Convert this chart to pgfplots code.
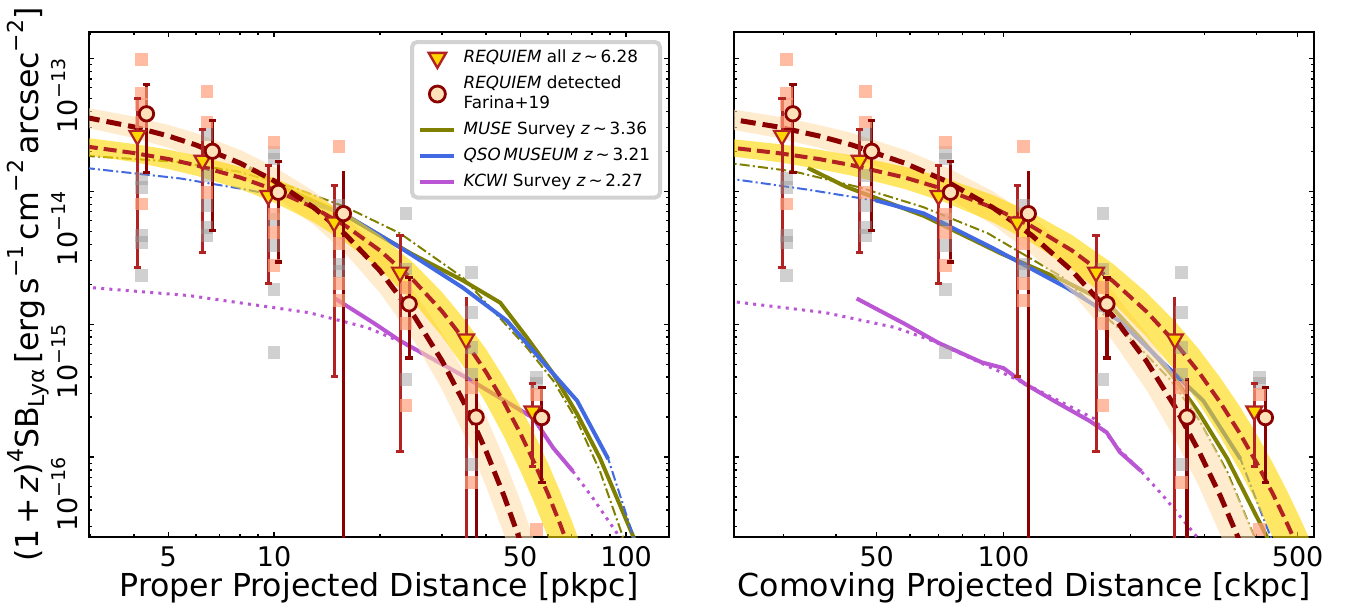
\documentclass[border=0pt]{standalone}
\usepackage{fontspec}
\setmainfont{DejaVu Sans}
\usepackage{pgfplots}
\usepackage{pgfplotstable}
\pgfplotsset{compat=1.18}

\definecolor{firebrick}{RGB}{178,34,34}
\definecolor{darkred}{RGB}{139,0,0}
\definecolor{gold}{RGB}{255,215,0}
\definecolor{navajo}{RGB}{255,222,173}
\definecolor{bisquem}{RGB}{255,225,185}
\definecolor{myolive}{RGB}{128,128,0}
\definecolor{royalblue}{RGB}{65,105,225}
\definecolor{orchid}{RGB}{186,85,211}
\definecolor{lsalmon}{RGB}{255,160,122}
\definecolor{sqgray}{RGB}{150,150,150}

\newcommand\tp[1]{10\raisebox{0.45em}{\fontsize{9.5}{10}\selectfont −#1}}
\newcommand\sups[1]{\raisebox{0.45em}{\fontsize{11}{12}\selectfont #1}}
\newcommand\subs[1]{\raisebox{-0.22em}{\fontsize{11}{12}\selectfont #1}}

% exponential fits (proper kpc)
\pgfplotstableread{
r FR DR
2.9 2.18e-14 3.61e-14
4 1.94e-14 3.05e-14
5 1.75e-14 2.61e-14
6 1.57e-14 2.23e-14
8 1.27e-14 1.63e-14
10 1.03e-14 1.20e-14
13 7.50e-15 7.50e-15
16 5.47e-15 4.69e-15
20 3.58e-15 2.52e-15
25 2.11e-15 1.15e-15
30 1.25e-15 5.30e-16
35 7.37e-16 2.43e-16
40 4.36e-16 1.11e-16
45 2.57e-16 5.10e-17
50 1.52e-16 2.34e-17
55 8.93e-17 1.07e-17
60 5.28e-17 4.9e-18
65 3.11e-17 2.2e-18
70 1.84e-17 1e-18
75 1.08e-17 5e-19
80 6.4e-18 2e-19
}\fitP
\pgfplotstableread{
r FR DR
21.11 2.18e-14 3.61e-14
29.12 1.94e-14 3.05e-14
36.4 1.75e-14 2.61e-14
43.68 1.57e-14 2.23e-14
58.24 1.27e-14 1.63e-14
72.8 1.03e-14 1.20e-14
94.64 7.50e-15 7.50e-15
116.48 5.47e-15 4.69e-15
145.6 3.58e-15 2.52e-15
182 2.11e-15 1.15e-15
218.4 1.25e-15 5.30e-16
254.8 7.37e-16 2.43e-16
291.2 4.36e-16 1.11e-16
327.6 2.57e-16 5.10e-17
364 1.52e-16 2.34e-17
400.4 8.93e-17 1.07e-17
436.8 5.28e-17 4.9e-18
473.2 3.11e-17 2.2e-18
509.6 1.84e-17 1e-18
546 1.08e-17 5e-19
582.4 6.4e-18 2e-19
}\fitC

\pgfplotstableread{
x y
4.2 1.24e-14
4.2 1.07e-14
4.2 4.66e-15
4.2 4.12e-15
4.2 2.31e-15
6.45 2.69e-14
6.45 1.32e-14
6.45 7.83e-15
6.45 5.35e-15
6.45 4.66e-15
10 1.97e-14
10 1.75e-14
10 6.15e-15
10 3.91e-15
10 1.83e-15
10 6.1e-16
15.3 7.8e-15
15.3 2.84e-15
15.3 2.5e-15
23.7 6.8e-15
23.7 2.6e-15
23.7 3.85e-16
36.4 2.46e-15
36.4 1.23e-15
36.4 6.68e-16
36.4 4.21e-16
36.4 8.81e-17
55.7 3.97e-16
55.7 3.6e-16
}\grayP
\pgfplotstableread{
x y
30.58 1.24e-14
30.58 1.07e-14
30.58 4.66e-15
30.58 4.12e-15
30.58 2.31e-15
46.96 2.69e-14
46.96 1.32e-14
46.96 7.83e-15
46.96 5.35e-15
46.96 4.66e-15
72.8 1.97e-14
72.8 1.75e-14
72.8 6.15e-15
72.8 3.91e-15
72.8 1.83e-15
72.8 6.1e-16
111.4 7.8e-15
111.4 2.84e-15
111.4 2.5e-15
172.5 6.8e-15
172.5 2.6e-15
172.5 3.85e-16
265.0 2.46e-15
265.0 1.23e-15
265.0 6.68e-16
265.0 4.21e-16
265.0 8.81e-17
405.5 3.97e-16
405.5 3.6e-16
}\grayC
\pgfplotstableread{
x y
4.2 9.86e-14
4.2 5.42e-14
4.2 4.5e-14
4.2 3.32e-14
4.2 8.02e-15
6.45 5.65e-14
6.45 3.32e-14
6.45 9.82e-15
10 2.34e-14
10 6.75e-15
10 4.9e-15
10 2.75e-15
15.3 2.16e-14
15.3 4.06e-15
15.3 2.01e-15
15.3 1.5e-15
23.7 1.9e-15
23.7 1.01e-15
23.7 2.43e-16
36.4 3.33e-16
36.4 6.4e-17
55.7 2.97e-16
55.7 2.84e-17
}\salP
\pgfplotstableread{
x y
30.58 9.86e-14
30.58 5.42e-14
30.58 4.5e-14
30.58 3.32e-14
30.58 8.02e-15
46.96 5.65e-14
46.96 3.32e-14
46.96 9.82e-15
72.8 2.34e-14
72.8 6.75e-15
72.8 4.9e-15
72.8 2.75e-15
111.4 2.16e-14
111.4 4.06e-15
111.4 2.01e-15
111.4 1.5e-15
172.5 1.9e-15
172.5 1.01e-15
172.5 2.43e-16
265.0 3.33e-16
265.0 6.4e-17
405.5 2.97e-16
405.5 2.84e-17
}\salC

\pgfplotstableread{
x y
4.09 2.63e-14
6.26 1.71e-14
9.63 9.29e-15
14.81 5.86e-15
22.8 2.46e-15
35.1 7.73e-16
54.2 2.22e-16
}\triP
\pgfplotstableread{
x y
4.34 3.83e-14
6.68 2.0e-14
10.28 9.82e-15
15.74 6.79e-15
24.2 1.42e-15
37.5 2.0e-16
57.6 1.98e-16
}\cirP
\pgfplotstableread{
x y
29.78 2.63e-14
45.57 1.71e-14
70.11 9.29e-15
107.8 5.86e-15
166.0 2.46e-15
255.5 7.73e-16
394.6 2.22e-16
}\triC
\pgfplotstableread{
x y
31.60 3.83e-14
48.63 2.0e-14
74.84 9.82e-15
114.6 6.79e-15
176.2 1.42e-15
273.0 2.0e-16
419.3 1.98e-16
}\cirC

\pgfplotsset{
  ebT/.style={firebrick, line width=1.5pt, mark=-, mark size=1.8pt, mark options={solid}, forget plot},
  ebC/.style={darkred, line width=1.6pt, mark=-, mark size=1.9pt, mark options={solid}, forget plot},
  sqG/.style={only marks, mark=square*, mark size=3.2pt, sqgray, fill opacity=0.45, draw opacity=0,
     mark options={draw=sqgray, fill=sqgray, draw opacity=0, fill opacity=0.45, line width=0pt}, forget plot},
  sqS/.style={only marks, mark=square*, mark size=3.2pt, lsalmon, fill opacity=0.7, draw opacity=0,
     mark options={draw=lsalmon, fill=lsalmon, draw opacity=0, fill opacity=0.7, line width=0pt}, forget plot},
  mT/.style={only marks, mark=triangle*, mark size=4.6pt, mark options={rotate=180, fill=gold, draw=firebrick, line width=1.1pt}, forget plot},
  mC/.style={only marks, mark=*, mark size=3.6pt, mark options={fill=bisquem, draw=darkred, line width=1.4pt}, forget plot},
  oliveS/.style={myolive, line width=2pt, forget plot},
  oliveD/.style={myolive, line width=1pt, dash pattern=on 5pt off 1.6pt on 1pt off 1.6pt, forget plot},
  blueS/.style={royalblue, line width=2pt, forget plot},
  blueD/.style={royalblue, line width=1pt, dash pattern=on 5pt off 1.6pt on 1pt off 1.6pt, forget plot},
  purS/.style={orchid, line width=2pt, forget plot},
  purD/.style={orchid, line width=1.5pt, dash pattern=on 1.5pt off 2.6pt, forget plot},
  fitFR/.style={firebrick, line width=2pt, dash pattern=on 6.5pt off 3pt, forget plot},
  fitDR/.style={darkred, line width=2.5pt, dash pattern=on 7.5pt off 3.5pt, forget plot},
  bandB/.style={fill=navajo, fill opacity=0.6, draw=none, forget plot},
  bandY/.style={fill=gold, fill opacity=0.6, draw=none, forget plot},
}

\begin{document}
\begin{tikzpicture}
\useasboundingbox (0,0) rectangle (678pt,305pt);

% ---------------- left panel ----------------
\begin{axis}[
  scale only axis, width=290pt, height=252.5pt, anchor=south west,
  at={(44.5pt,36.5pt)},
  xmode=log, ymode=log, ymin=2.5e-17, ymax=1.58e-13,
  xmin=2.98, xmax=132.4,
  tick align=inside,
  major tick length=2.75pt, minor tick length=1.5pt,
  tick style={black, line width=0.6pt},
  axis line style={line width=0.9pt},
  xtick={5,10,50,100}, xticklabels={5,10,50,100},
  minor xtick={3,4,6,7,8,9,20,30,40,60,70,80,90},
  ytick={1e-16,1e-15,1e-14,1e-13},
  minor ytick={3e-17,4e-17,5e-17,6e-17,7e-17,8e-17,9e-17,2e-16,3e-16,4e-16,5e-16,6e-16,7e-16,8e-16,9e-16,2e-15,3e-15,4e-15,5e-15,6e-15,7e-15,8e-15,9e-15,2e-14,3e-14,4e-14,5e-14,6e-14,7e-14,8e-14,9e-14},
  yticklabels={\tp{16},\tp{15},\tp{14},\tp{13}},
  tick label style={font=\fontsize{13.5}{15}\selectfont},
  xticklabel style={anchor=north, inner sep=0pt, yshift=-4.5pt},
  yticklabel style={xshift=-5.5pt, rotate=90, anchor=south east, inner sep=0pt},
  label style={font=\fontsize{15.8}{18}\selectfont},
  xlabel={Proper Projected Distance [pkpc]},
  xlabel style={at={([yshift=-29.75pt]axis description cs:0.5,0)}, anchor=base, inner sep=0pt},
  ylabel={(1\,+\,\textit{z})\sups{4}SB\subs{Lyα}\,[erg\,s\sups{−1}\,cm\sups{−2}\,arcsec\sups{−2}]},
  ylabel style={at={([xshift=-25.5pt]axis description cs:0,0.5)}, anchor=base, inner sep=0pt},
  legend cell align=left,
  legend style={at={(rel axis cs:1,1)}, anchor=north east, xshift=-3.5pt, yshift=-4pt,
    draw=gray!35, line width=2pt, rounded corners=2.5pt, fill=white,
    font=\fontsize{8.4}{10}\selectfont, inner xsep=3pt, inner ysep=2pt,
    row sep=1.2pt, column sep=1.5pt},
]
\addplot[sqG] table {\grayP};
\addplot[sqS] table {\salP};

\addplot[purD] coordinates {(2.9,1.9e-15) (5.74,1.64e-15) (12.57,1.22e-15) (18.4,9.42e-16) (22.8,7.4e-16) (35.3,3.9e-16) (54.5,1.95e-16) (62.1,1.17e-16) (70.6,7.8e-17) (80.5,4.9e-17) (94.2,2.67e-17) (100,2.1e-17)};
\addplot[purS] coordinates {(14.9,1.56e-15) (19.3,1.01e-15) (22.8,7.5e-16) (35.3,3.94e-16) (54.5,1.97e-16) (62.1,1.17e-16) (70.6,7.83e-17)};
\addplot[oliveD] coordinates {(2.9,1.85e-14) (5.23,1.67e-14) (7.9,1.41e-14) (11.3,1.07e-14) (16,7.6e-15) (22.8,4.82e-15) (34.4,2.24e-15) (52.3,6.65e-16) (62.1,3.75e-16) (72.6,1.87e-16) (84.3,7.83e-17) (98,2.5e-17) (104,1.6e-17)};
\addplot[oliveS] coordinates {(8.5,1.5e-14) (10.5,1.08e-14) (16.1,6.5e-15) (24.5,3.4e-15) (34.4,2.13e-15) (43.9,1.45e-15) (52.3,7.91e-16) (62.1,4.23e-16) (72.6,2.11e-16) (84.3,9.82e-17) (104.7,2.54e-17) (110,1.8e-17)};
\addplot[blueD] coordinates {(2.9,1.5e-14) (5.4,1.25e-14) (8.32,1.03e-14) (12.09,8.5e-15) (15.71,6.8e-15) (22.8,3.78e-15) (34.4,1.88e-15) (45.9,1.06e-15) (62.1,4.23e-16) (72.6,2.65e-16) (89,9.66e-17) (105,2.5e-17) (110,1.5e-17)};
\addplot[blueS] coordinates {(12.09,8.55e-15) (15.71,6.82e-15) (22.8,3.78e-15) (34.4,1.88e-15) (45.9,1.06e-15) (62.1,4.23e-16) (72.6,2.65e-16) (89,9.66e-17)};

\addplot[bandB] coordinates {(2.9,4.28e-14) (4,3.65e-14) (5,3.16e-14) (6,2.74e-14) (8,2.05e-14) (10,1.53e-14) (13,9.95e-15) (16,6.46e-15) (20,3.62e-15) (25,1.76e-15) (30,8.55e-16) (35,4.15e-16) (40,2.02e-16) (45,9.80e-17) (50,4.76e-17) (55,2.31e-17) (60,1.12e-17) (65,5.4e-18)
 (65,9e-19) (60,2.1e-18) (55,4.9e-18) (50,1.13e-17) (45,2.61e-17) (40,6.03e-17) (35,1.39e-16) (30,3.22e-16) (25,7.45e-16) (20,1.72e-15) (16,3.37e-15) (13,5.56e-15) (10,9.20e-15) (8,1.29e-14) (6,1.80e-14) (5,2.13e-14) (4,2.52e-14) (2.9,3.03e-14)} -- cycle;
\addplot[bandY] coordinates {(2.9,2.53e-14) (4,2.27e-14) (5,2.06e-14) (6,1.86e-14) (8,1.53e-14) (10,1.26e-14) (13,9.33e-15) (16,6.93e-15) (20,4.68e-15) (25,2.85e-15) (30,1.74e-15) (35,1.06e-15) (40,6.49e-16) (45,3.95e-16) (50,2.42e-16) (55,1.47e-16) (60,8.99e-17) (65,5.48e-17) (70,3.35e-17) (75,2.04e-17) (80,1.25e-17)
 (80,2.5e-18) (75,4.4e-18) (70,7.8e-18) (65,1.39e-17) (60,2.49e-17) (55,4.45e-17) (50,7.94e-17) (45,1.42e-16) (40,2.54e-16) (35,4.53e-16) (30,8.09e-16) (25,1.45e-15) (20,2.58e-15) (16,4.11e-15) (13,5.82e-15) (10,8.24e-15) (8,1.04e-14) (6,1.31e-14) (5,1.47e-14) (4,1.66e-14) (2.9,1.88e-14)} -- cycle;

\addplot[fitFR] table[x=r, y=FR] {\fitP};
\addplot[fitDR] table[x=r, y=DR] {\fitP};

\addplot[ebT] coordinates {(4.09,2.65e-15) (4.09,4.98e-14)};
\addplot[ebT] coordinates {(6.26,3.47e-15) (6.26,2.92e-14)};
\addplot[ebT] coordinates {(9.63,2.03e-15) (9.63,1.56e-14)};
\addplot[ebT] coordinates {(14.81,4.02e-16) (14.81,1.11e-14)};
\addplot[ebT] coordinates {(22.8,1.1e-16) (22.8,4.66e-15)};
\addplot[ebT, mark indices={2}] coordinates {(35.1,1e-18) (35.1,1.61e-15)};
\addplot[ebT] coordinates {(54.2,8.55e-17) (54.2,3.57e-16)};
\addplot[mT] table {\triP};

\addplot[ebC] coordinates {(4.34,1.39e-14) (4.34,6.34e-14)};
\addplot[ebC] coordinates {(6.68,5.05e-15) (6.68,3.42e-14)};
\addplot[ebC] coordinates {(10.28,2.94e-15) (10.28,1.68e-14)};
\addplot[ebC, mark indices={2}] coordinates {(15.74,1e-18) (15.74,1.43e-14)};
\addplot[ebC] coordinates {(24.2,5.56e-16) (24.2,2.25e-15)};
\addplot[ebC, mark indices={2}] coordinates {(37.5,1e-18) (37.5,3.93e-16)};
\addplot[ebC] coordinates {(57.6,6.4e-17) (57.6,3.33e-16)};
\addplot[mC] table {\cirP};

\addlegendimage{only marks, mark=triangle*, mark size=5pt, mark options={rotate=180, fill=gold, draw=firebrick, line width=1.2pt}}
\addlegendentry{\textit{REQUIEM} all \textit{z}\,∼\,6.28}
\addlegendimage{only marks, mark=*, mark size=4pt, mark options={fill=bisquem, draw=darkred, line width=1.4pt}}
\addlegendentry[align=left]{\textit{REQUIEM} detected\\Farina+19}
\addlegendimage{myolive, line width=2.2pt}
\addlegendentry{\textit{MUSE} Survey \textit{z}\,∼\,3.36}
\addlegendimage{royalblue, line width=2.2pt}
\addlegendentry{\textit{QSO\,MUSEUM} \textit{z}\,∼\,3.21}
\addlegendimage{orchid, line width=2.2pt}
\addlegendentry{\textit{KCWI} Survey \textit{z}\,∼\,2.27}
\end{axis}

% ---------------- right panel ----------------
\begin{axis}[
  scale only axis, width=290pt, height=252.5pt, anchor=south west,
  at={(367pt,36.5pt)},
  xmode=log, ymode=log, ymin=2.5e-17, ymax=1.58e-13,
  xmin=22.9, xmax=547,
  tick align=inside,
  major tick length=2.75pt, minor tick length=1.5pt,
  tick style={black, line width=0.6pt},
  axis line style={line width=0.9pt},
  xtick={50,100,500}, xticklabels={50,100,500},
  minor xtick={30,40,60,70,80,90,200,300,400},
  ytick={1e-16,1e-15,1e-14,1e-13},
  minor ytick={3e-17,4e-17,5e-17,6e-17,7e-17,8e-17,9e-17,2e-16,3e-16,4e-16,5e-16,6e-16,7e-16,8e-16,9e-16,2e-15,3e-15,4e-15,5e-15,6e-15,7e-15,8e-15,9e-15,2e-14,3e-14,4e-14,5e-14,6e-14,7e-14,8e-14,9e-14},
  yticklabels={},
  tick label style={font=\fontsize{13.5}{15}\selectfont},
  xticklabel style={anchor=north, inner sep=0pt, yshift=-4.5pt},
  label style={font=\fontsize{15.8}{18}\selectfont},
  xlabel={Comoving Projected Distance [ckpc]},
  xlabel style={at={([yshift=-29.75pt]axis description cs:0.5,0)}, anchor=base, inner sep=0pt},
]
\addplot[sqG] table {\grayC};
\addplot[sqS] table {\salC};

\addplot[purD] coordinates {(8.7,1.9e-15) (17.3,1.64e-15) (37.8,1.22e-15) (55.4,9.42e-16) (68.6,7.4e-16) (106.3,3.9e-16) (164,1.95e-16) (186.9,1.17e-16) (212.5,7.8e-17) (242.3,4.9e-17) (283.5,2.67e-17) (301,2.1e-17)};
\addplot[purS] coordinates {(44.8,1.56e-15) (58.1,1.01e-15) (70.1,7.23e-16) (88.8,5.16e-16) (100,4.67e-16) (112.4,3.56e-16) (132.6,2.62e-16) (160.2,1.87e-16) (176,1.53e-16) (189,1.09e-16) (212.8,7.8e-17)};
\addplot[oliveD] coordinates {(11.7,1.85e-14) (21.1,1.67e-14) (31.8,1.41e-14) (45.5,1.07e-14) (64.5,7.6e-15) (91.9,4.82e-15) (138.6,2.24e-15) (210.8,6.65e-16) (250.3,3.75e-16) (292.6,1.87e-16) (339.7,7.83e-17) (394.9,2.5e-17) (419.1,1.6e-17)};
\addplot[oliveS] coordinates {(34.3,1.5e-14) (42.3,1.08e-14) (64.9,6.5e-15) (98.7,3.4e-15) (138.6,2.13e-15) (176.9,1.45e-15) (210.8,7.91e-16) (250.3,4.23e-16) (292.6,2.11e-16) (339.7,9.82e-17) (421.9,2.54e-17) (443.3,1.8e-17)};
\addplot[blueD] coordinates {(11.9,1.5e-14) (22.2,1.25e-14) (34.2,1.03e-14) (49.7,8.5e-15) (64.6,6.8e-15) (93.7,3.78e-15) (141.4,1.88e-15) (188.6,1.06e-15) (255.2,4.23e-16) (298.4,2.65e-16) (365.8,9.66e-17) (431.6,2.5e-17) (452.1,1.5e-17)};
\addplot[blueS] coordinates {(49.7,8.55e-15) (64.6,6.82e-15) (93.7,3.78e-15) (141.4,1.88e-15) (188.6,1.06e-15) (255.2,4.23e-16) (298.4,2.65e-16) (365.8,9.66e-17)};

\addplot[bandB] coordinates {(21.11,4.28e-14) (29.12,3.65e-14) (36.4,3.16e-14) (43.68,2.74e-14) (58.24,2.05e-14) (72.8,1.53e-14) (94.64,9.95e-15) (116.48,6.46e-15) (145.6,3.62e-15) (182,1.76e-15) (218.4,8.55e-16) (254.8,4.15e-16) (291.2,2.02e-16) (327.6,9.80e-17) (364,4.76e-17) (400.4,2.31e-17) (436.8,1.12e-17) (473.2,5.4e-18)
 (473.2,9e-19) (436.8,2.1e-18) (400.4,4.9e-18) (364,1.13e-17) (327.6,2.61e-17) (291.2,6.03e-17) (254.8,1.39e-16) (218.4,3.22e-16) (182,7.45e-16) (145.6,1.72e-15) (116.48,3.37e-15) (94.64,5.56e-15) (72.8,9.20e-15) (58.24,1.29e-14) (43.68,1.80e-14) (36.4,2.13e-14) (29.12,2.52e-14) (21.11,3.03e-14)} -- cycle;
\addplot[bandY] coordinates {(21.11,2.53e-14) (29.12,2.27e-14) (36.4,2.06e-14) (43.68,1.86e-14) (58.24,1.53e-14) (72.8,1.26e-14) (94.64,9.33e-15) (116.48,6.93e-15) (145.6,4.68e-15) (182,2.85e-15) (218.4,1.74e-15) (254.8,1.06e-15) (291.2,6.49e-16) (327.6,3.95e-16) (364,2.42e-16) (400.4,1.47e-16) (436.8,8.99e-17) (473.2,5.48e-17) (509.6,3.35e-17) (546,2.04e-17) (582.4,1.25e-17)
 (582.4,2.5e-18) (546,4.4e-18) (509.6,7.8e-18) (473.2,1.39e-17) (436.8,2.49e-17) (400.4,4.45e-17) (364,7.94e-17) (327.6,1.42e-16) (291.2,2.54e-16) (254.8,4.53e-16) (218.4,8.09e-16) (182,1.45e-15) (145.6,2.58e-15) (116.48,4.11e-15) (94.64,5.82e-15) (72.8,8.24e-15) (58.24,1.04e-14) (43.68,1.31e-14) (36.4,1.47e-14) (29.12,1.66e-14) (21.11,1.88e-14)} -- cycle;

\addplot[fitFR] table[x=r, y=FR] {\fitC};
\addplot[fitDR] table[x=r, y=DR] {\fitC};

\addplot[ebT] coordinates {(29.78,2.65e-15) (29.78,4.98e-14)};
\addplot[ebT] coordinates {(45.57,3.47e-15) (45.57,2.92e-14)};
\addplot[ebT] coordinates {(70.11,2.03e-15) (70.11,1.56e-14)};
\addplot[ebT] coordinates {(107.8,4.02e-16) (107.8,1.11e-14)};
\addplot[ebT] coordinates {(166.0,1.1e-16) (166.0,4.66e-15)};
\addplot[ebT, mark indices={2}] coordinates {(255.5,1e-18) (255.5,1.61e-15)};
\addplot[ebT] coordinates {(394.6,8.55e-17) (394.6,3.57e-16)};
\addplot[mT] table {\triC};

\addplot[ebC] coordinates {(31.60,1.39e-14) (31.60,6.34e-14)};
\addplot[ebC] coordinates {(48.63,5.05e-15) (48.63,3.42e-14)};
\addplot[ebC] coordinates {(74.84,2.94e-15) (74.84,1.68e-14)};
\addplot[ebC, mark indices={2}] coordinates {(114.6,1e-18) (114.6,1.43e-14)};
\addplot[ebC] coordinates {(176.2,5.56e-16) (176.2,2.25e-15)};
\addplot[ebC, mark indices={2}] coordinates {(273.0,1e-18) (273.0,3.93e-16)};
\addplot[ebC] coordinates {(419.3,6.4e-17) (419.3,3.33e-16)};
\addplot[mC] table {\cirC};
\end{axis}
\end{tikzpicture}
\end{document}
